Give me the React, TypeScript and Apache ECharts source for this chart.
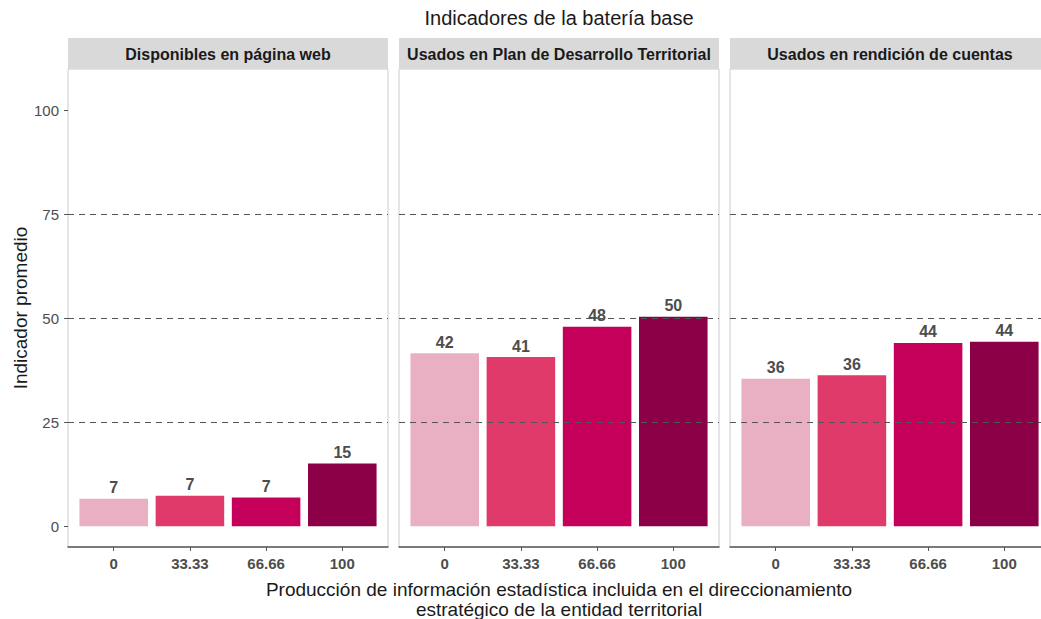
import React, { useEffect, useRef } from "react";
import * as echarts from "echarts";

const categories = ["0", "33.33", "66.66", "100"];
const panels = [
  "Disponibles en página web",
  "Usados en Plan de Desarrollo Territorial",
  "Usados en rendición de cuentas",
];
const valuesWeb = [6.6, 7.3, 6.9, 15.1];
const valuesPlan = [41.6, 40.7, 48.0, 50.4];
const valuesRendicion = [35.5, 36.3, 44.1, 44.4];
const panelValues = [valuesWeb, valuesPlan, valuesRendicion];
const barColors = ["#E8B0C2", "#E03A6A", "#C5005A", "#8B0046"];
const yTicks = [0, 25, 50, 75, 100];
const refLines = [25, 50, 75];
const title = "Indicadores de la batería base";
const yTitle = "Indicador promedio";
const xTitle =
  "Producción de información estadística incluida en el direccionamiento\nestratégico de la entidad territorial";

const FONT = "'Liberation Sans', Arial, Helvetica, sans-serif";

export default function App() {
  const ref = useRef<HTMLDivElement>(null);
  useEffect(() => {
    if (!ref.current) return;
    const chart = echarts.init(ref.current, null, { renderer: "svg" });
    const lefts = [68, 399, 730];
    const W = 320;
    const top = 69;
    const H = 478;
    const xPos = categories.map((_, i) => i + 1);

    const grids = lefts.map((l) => ({
      left: l,
      top,
      width: W,
      height: H,
      show: true,
      borderColor: "#cccccc",
      borderWidth: 1,
      backgroundColor: "#ffffff",
    }));

    const xAxes = lefts.map((_, i) => ({
      type: "value",
      gridIndex: i,
      min: 0.4,
      max: 4.6,
      position: "bottom",
      splitLine: { show: false },
      axisLine: { show: true, onZero: false, lineStyle: { color: "#555555", width: 1.5 } },
      axisTick: { show: true, length: 4, lineStyle: { color: "#555555" }, customValues: xPos },
      axisLabel: {
        customValues: xPos,
        formatter: (v: number) => categories[Math.round(v) - 1] ?? "",
        color: "#4d4d4d",
        fontWeight: "bold",
        fontSize: 15,
        fontFamily: FONT,
        margin: 9,
      },
    }));

    const yAxes = lefts.map((_, i) => ({
      type: "value",
      gridIndex: i,
      min: -5,
      max: 110,
      splitLine: { show: false },
      axisLine: { show: false, onZero: false },
      axisTick: {
        show: i === 0,
        length: 4,
        lineStyle: { color: "#555555" },
        customValues: yTicks,
      },
      axisLabel: {
        show: i === 0,
        customValues: yTicks,
        color: "#4d4d4d",
        fontSize: 15,
        fontFamily: FONT,
        margin: 9,
      },
    }));

    const series = panelValues.map((vals, i) => ({
      type: "bar",
      xAxisIndex: i,
      yAxisIndex: i,
      barWidth: (0.9 * W) / 4.2,
      data: vals.map((v, j) => ({
        value: [xPos[j], v],
        itemStyle: { color: barColors[j] },
      })),
      label: {
        show: true,
        position: "top",
        distance: 3,
        formatter: (p: any) => String(Math.round(p.value[1])),
        color: "#4d4d4d",
        fontWeight: "bold",
        fontSize: 16,
        fontFamily: FONT,
      },
      markLine: {
        silent: true,
        symbol: ["none", "none"],
        label: { show: false },
        lineStyle: { type: [6, 5], color: "#555555", width: 1.2 },
        data: refLines.map((y) => ({ yAxis: y })),
      },
    }));

    const graphics: any[] = [];
    lefts.forEach((l, i) => {
      graphics.push({
        type: "rect",
        shape: { x: l, y: 38, width: W, height: 31 },
        style: { fill: "#D9D9D9" },
        z: 10,
      });
      graphics.push({
        type: "text",
        x: l + W / 2,
        y: 54,
        style: {
          text: panels[i],
          font: `bold 16px ${FONT}`,
          fill: "#1a1a1a",
          textAlign: "center",
          textVerticalAlign: "middle",
        },
        z: 11,
      });
    });
    graphics.push({
      type: "text",
      x: 559,
      y: 18,
      style: {
        text: title,
        font: `20px ${FONT}`,
        fill: "#1a1a1a",
        textAlign: "center",
        textVerticalAlign: "middle",
      },
    });
    graphics.push({
      type: "text",
      x: 20,
      y: 308,
      rotation: Math.PI / 2,
      style: {
        text: yTitle,
        font: `19px ${FONT}`,
        fill: "#1a1a1a",
        textAlign: "center",
        textVerticalAlign: "middle",
      },
    });
    graphics.push({
      type: "text",
      x: 559,
      y: 599,
      style: {
        text: xTitle,
        font: `19px ${FONT}`,
        lineHeight: 20,
        fill: "#1a1a1a",
        textAlign: "center",
        textVerticalAlign: "middle",
      },
    });

    chart.setOption({
      animation: false,
      backgroundColor: "#ffffff",
      grid: grids,
      xAxis: xAxes,
      yAxis: yAxes,
      series,
      graphic: graphics,
    } as any);
    return () => chart.dispose();
  }, []);

  return (
    <div
      style={{
        position: "fixed",
        left: 0,
        top: 0,
        width: 1041,
        height: 619,
        overflow: "hidden",
        background: "#fff",
      }}
    >
      <div ref={ref} style={{ width: 1060, height: 619 }} />
    </div>
  );
}
